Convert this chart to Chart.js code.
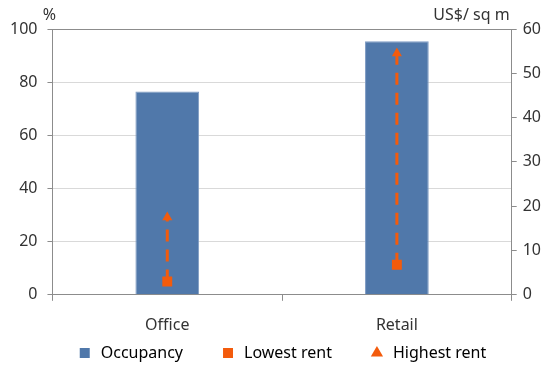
<!DOCTYPE html>
<html>
<head>
<meta charset="utf-8">
<script src="https://cdn.jsdelivr.net/npm/chart.js@4.4.1/dist/chart.umd.min.js"></script>
<style>
  html, body { margin: 0; padding: 0; background: #fff; }
  #wrap { width: 547px; height: 365px; position: relative; }
</style>
</head>
<body>
<div id="wrap"><canvas id="rentChart"></canvas></div>
<script>
// dữ liệu
const categories = ['Office', 'Retail'];
const occupancy = [76.5, 95.4];      // %
const lowestRent = [3, 6.8];         // US$/ sq m
const highestRent = [17.5, 54.5];    // US$/ sq m
const leftAxis = { min: 0, max: 100, step: 20, unit: '%' };
const rightAxis = { min: 0, max: 60, step: 10, unit: 'US$/ sq m' };
const legendNames = ['Occupancy', 'Lowest rent', 'Highest rent'];

const BLUE = '#5078AA';
const ORANGE = '#F35B0C';
const AXIS = '#8c8c8c';
const TEXT = '#333';
const FONT = { family: "'Noto Sans', 'Open Sans', sans-serif", size: 16 };

// legend cần khoảng cách ngang lớn nhưng không muốn chiếm thêm chiều cao
const LEGEND_TRIM = 42;
const LEGEND_SHIFT = 8;

// đường nét đứt nối giá thấp -> giá cao cho từng hạng mục
const rangeSets = categories.map((c, i) => ({
    type: 'line',
    label: 'range ' + c,
    data: [{ x: c, y: lowestRent[i] }, { x: c, y: highestRent[i] }],
    yAxisID: 'y1',
    borderColor: ORANGE,
    borderWidth: 3,
    borderDash: [12, 8],
    pointRadius: 0,
    fill: false,
    order: 1
}));

// chữ đơn vị ở đầu hai trục
const unitLabels = {
    id: 'unitLabels',
    afterInit(chart) {
        const lg = chart.legend;
        if (!lg) return;
        const fit = lg.fit;
        lg.fit = function () { fit.call(this); this.height -= LEGEND_TRIM; };
        const draw = lg.draw;
        lg.draw = function () {
            this.top -= LEGEND_TRIM; this.left += LEGEND_SHIFT; this.right += LEGEND_SHIFT;
            draw.call(this);
            this.top += LEGEND_TRIM; this.left -= LEGEND_SHIFT; this.right -= LEGEND_SHIFT;
        };
    },
    afterDraw(chart) {
        const { ctx, chartArea } = chart;
        ctx.save();
        ctx.font = FONT.size + 'px ' + FONT.family;
        ctx.fillStyle = TEXT;
        ctx.textBaseline = 'middle';
        ctx.textAlign = 'center';
        ctx.fillText(leftAxis.unit, chartArea.left - 3, chartArea.top - 14);
        ctx.textAlign = 'right';
        ctx.fillText(rightAxis.unit, chartArea.right - 2, chartArea.top - 14);
        ctx.restore();
    }
};

new Chart(document.getElementById('rentChart').getContext('2d'), {
    type: 'bar',
    data: {
        labels: categories,
        datasets: [
            {
                label: legendNames[0],
                data: occupancy,
                backgroundColor: BLUE,
                borderColor: '#7f9cc4',
                borderWidth: 1,
                yAxisID: 'y',
                categoryPercentage: 1,
                barPercentage: 0.2775,
                order: 3
            },
            ...rangeSets,
            {
                type: 'line',
                label: legendNames[1],
                data: lowestRent,
                yAxisID: 'y1',
                showLine: false,
                pointStyle: 'rect',
                pointRadius: 7,
                backgroundColor: ORANGE,
                borderWidth: 0,
                order: 0
            },
            {
                type: 'line',
                label: legendNames[2],
                data: highestRent,
                yAxisID: 'y1',
                showLine: false,
                pointStyle: 'triangle',
                pointRadius: 5.8,
                backgroundColor: ORANGE,
                borderWidth: 0,
                order: 0
            }
        ]
    },
    options: {
        responsive: true,
        maintainAspectRatio: false,
        animation: false,
        layout: { padding: { top: 29, left: 0, right: 0, bottom: -6 } },
        scales: {
            x: {
                offset: true,
                grid: { display: true, drawOnChartArea: false, drawTicks: true, tickLength: 6, tickColor: AXIS, offset: true },
                border: { color: AXIS },
                ticks: { font: FONT, color: TEXT, padding: 15 }
            },
            y: {
                position: 'left',
                min: leftAxis.min,
                max: leftAxis.max,
                ticks: { stepSize: leftAxis.step, font: FONT, color: TEXT, padding: 10 },
                grid: {
                    color: ctx => ctx.tick && ctx.tick.value === leftAxis.max ? AXIS : '#d9d9d9',
                    tickColor: AXIS,
                    tickLength: 5
                },
                border: { color: AXIS }
            },
            y1: {
                position: 'right',
                min: rightAxis.min,
                max: rightAxis.max,
                ticks: { stepSize: rightAxis.step, font: FONT, color: TEXT, padding: 6 },
                grid: { drawOnChartArea: false, tickColor: AXIS, tickLength: 5 },
                border: { color: AXIS }
            }
        },
        plugins: {
            legend: {
                position: 'bottom',
                labels: {
                    font: FONT,
                    color: TEXT,
                    usePointStyle: true,
                    boxHeight: 10,
                    padding: 37,
                    generateLabels: () => legendNames.map((name, i) => ({
                        text: name,
                        fillStyle: i === 0 ? BLUE : ORANGE,
                        strokeStyle: i === 0 ? BLUE : ORANGE,
                        lineWidth: 0,
                        pointStyle: i === 2 ? 'triangle' : 'rect',
                        hidden: false,
                        datasetIndex: i
                    }))
                }
            },
            tooltip: { enabled: false }
        }
    },
    plugins: [unitLabels]
});
</script>
</body>
</html>
